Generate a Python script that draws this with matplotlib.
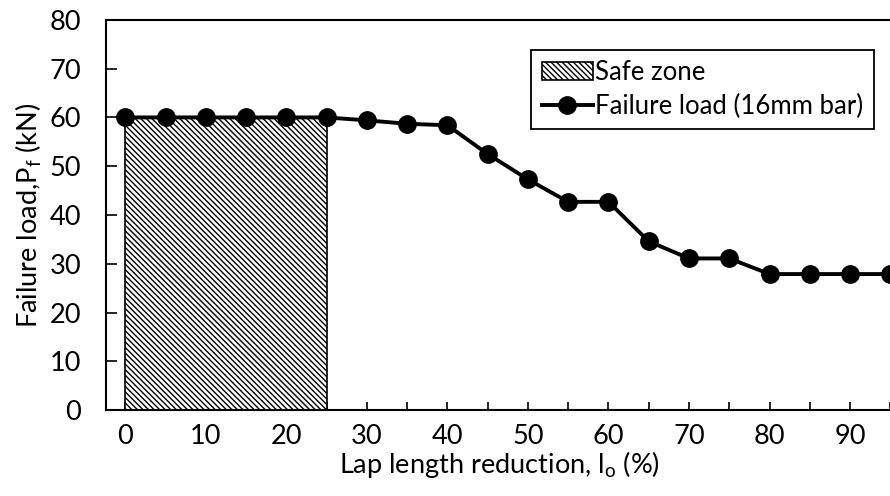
import matplotlib
matplotlib.use("Agg")
import matplotlib.pyplot as plt
from matplotlib.ticker import MultipleLocator

plt.rcParams['font.family'] = ['Lato', 'DejaVu Sans']
plt.rcParams['mathtext.fontset'] = 'custom'
plt.rcParams['mathtext.rm'] = 'Lato'
plt.rcParams['hatch.linewidth'] = 1.0

# Data
reduction = [0, 5, 10, 15, 20, 25, 30, 35, 40, 45, 50, 55, 60, 65, 70, 75, 80, 85, 90, 95]
failure_load = [60, 60, 60, 60, 60, 60, 59.4, 58.7, 58.4, 52.5, 47.3, 42.7, 42.7, 34.6,
                31.1, 31.1, 27.9, 27.9, 27.9, 27.9]
safe_start = 0
safe_width = 25
safe_height = 60
x_ticks = [0, 10, 20, 30, 40, 50, 60, 70, 80, 90]
y_ticks = [0, 10, 20, 30, 40, 50, 60, 70, 80]

fig = plt.figure(figsize=(8.9, 4.96), dpi=100)
ax = fig.add_axes([0.119, 0.173, 0.885, 0.787])

bars = ax.bar([safe_start], [safe_height], width=safe_width, align='edge', color='white',
              edgecolor='black', hatch='\\' * 6, linewidth=1.2, label='Safe zone', zorder=2)
line, = ax.plot(reduction, failure_load, color='black', linewidth=2.8, marker='o', markersize=12.5,
                label='Failure load (16mm bar)', zorder=3, clip_on=False)

ax.set_xlim(-2.4, 95.4)
ax.set_ylim(0, 80)
ax.set_xticks(x_ticks)
ax.set_yticks(y_ticks)
ax.xaxis.set_minor_locator(MultipleLocator(5))
ax.tick_params(axis='both', which='both', direction='in', labelsize=19.5, color='black', width=1.2)
ax.tick_params(axis='x', which='major', length=6, pad=10)
ax.tick_params(axis='x', which='minor', length=6)
ax.tick_params(axis='y', which='major', length=8, pad=18)
ax.tick_params(top=False, right=False)
for s in ax.spines.values():
    s.set_linewidth(1.5)
    s.set_color('black')

ax.set_xlabel('Lap length reduction, l$_\\mathregular{o}$ (%)', fontsize=19.5, labelpad=0)
ax.set_ylabel('Failure load,P$_\\mathregular{f}$ (kN)', fontsize=19.5, labelpad=4)

leg = ax.legend([bars, line], ['Safe zone', 'Failure load (16mm bar)'],
                loc='upper right', bbox_to_anchor=(0.975, 0.924), fontsize=18.5, frameon=True,
                fancybox=False, framealpha=1, edgecolor='black', handlelength=2.0,
                handletextpad=0.1, borderpad=0.4, labelspacing=0.35, borderaxespad=0)
leg.get_frame().set_linewidth(1.3)

fig.savefig('out.png', dpi=100)
